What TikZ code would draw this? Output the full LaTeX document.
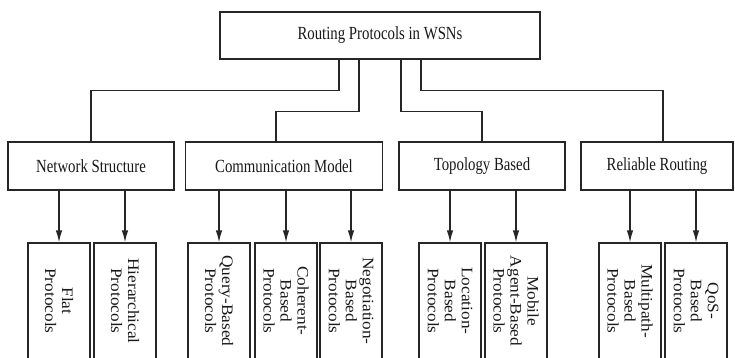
\documentclass[tikz,border=0pt]{standalone}
\usepackage{fontspec}
\setmainfont{Liberation Serif}
\newfontfamily\headfont{Liberation Serif}[FakeStretch=0.8]
\newfontfamily\leaffont{Liberation Serif}[FakeStretch=1.08]
\usetikzlibrary{arrows.meta}
\begin{document}
\begin{tikzpicture}[x=1pt,y=-1pt,
  wire/.style={draw=black!85, line width=1.25pt},
  tip/.style={-{Latex[length=12pt,width=6.5pt]}},
  headbox/.style={draw=black!85, line width=1.25pt, fill=white, text=black!90,
    font=\headfont\fontsize{18.5}{20}\selectfont, inner sep=0pt, minimum height=48pt},
  leafbox/.style={draw=black!85, line width=1.25pt, rotate=-90, align=center,
    minimum width=116pt, minimum height=62pt, inner sep=0pt, text=black!90,
    font=\leaffont\fontsize{16}{17}\selectfont}
]
\useasboundingbox (0,0) rectangle (735,357);
\clip (0,0) rectangle (735,357);

% root
\node[headbox, minimum width=320pt, minimum height=47pt] (top) at (380,35.5) {Routing Protocols in WSNs};

% categories
\node[headbox, minimum width=166pt] (ns) at (91,166)  {Network Structure};
\node[headbox, minimum width=197pt] (cm) at (284,166) {Communication Model};
\node[headbox, minimum width=166pt] (tb) at (482,166) {Topology Based};
\node[headbox, minimum width=152pt] (rr) at (657,166) {Reliable Routing};

% root to categories
\draw[wire] ([xshift=-41pt]top.south) -- ++(0,31) -| (ns.north);
\draw[wire] ([xshift=-21pt]top.south) -- ++(0,52) -| ([xshift=-8pt]cm.north);
\draw[wire] ([xshift=21pt]top.south)  -- ++(0,52) -| (tb.north);
\draw[wire] ([xshift=41pt]top.south)  -- ++(0,31) -| ([xshift=6pt]rr.north);

% protocol families
\node[leafbox] (flat)  at (59,301)  {Flat\\Protocols};
\node[leafbox] (hier)  at (125,301) {Hierarchical\\Protocols};
\node[leafbox] (query) at (219,301) {Query-Based\\Protocols};
\node[leafbox] (coh)   at (286,301) {Coherent-\\Based\\Protocols};
\node[leafbox] (neg)   at (351,301) {Negotiation-\\Based\\Protocols};
\node[leafbox] (loc)   at (450,301) {Location-\\Based\\Protocols};
\node[leafbox] (mob)   at (516,301) {Mobile\\Agent-Based\\Protocols};
\node[leafbox] (multi) at (630,301) {Multipath-\\Based\\Protocols};
\node[leafbox] (qos)   at (696,301) {QoS-\\Based\\Protocols};

% categories to families
\foreach \p/\c in {ns/flat, ns/hier, cm/query, cm/coh, cm/neg, tb/loc, tb/mob, rr/multi, rr/qos}
  \draw[wire,tip] (\c.west |- \p.south) -- (\c.west);
\end{tikzpicture}
\end{document}
